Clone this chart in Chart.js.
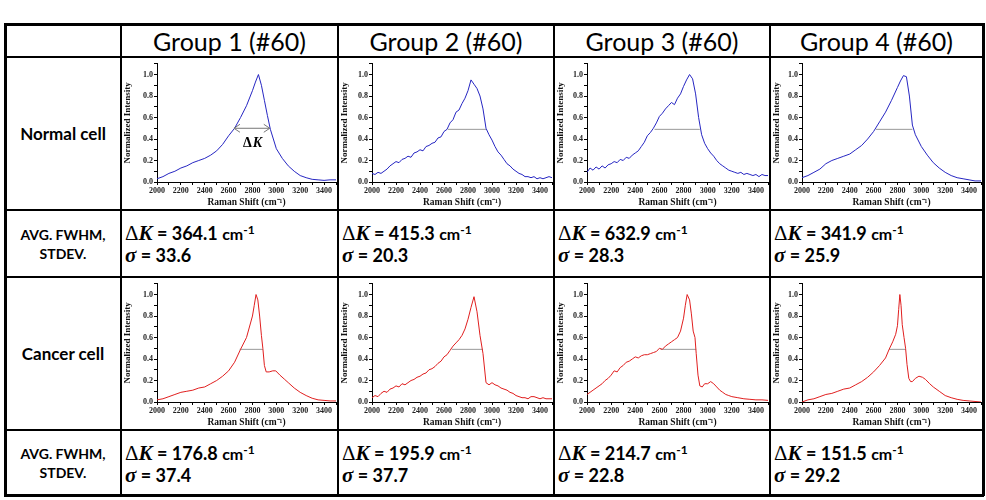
<!DOCTYPE html>
<html>
<head>
<meta charset="utf-8">
<script src="https://cdn.jsdelivr.net/npm/chart.js@4.4.0/dist/chart.umd.min.js"></script>
<style>
  body { margin: 0; background: #fff; width: 986px; height: 500px; position: relative; overflow: hidden;
         font-family: Lato, "Open Sans", sans-serif; color: #000; }
  .rule { position: absolute; background: #000; z-index: 5; }
  .txt { position: absolute; z-index: 3; white-space: nowrap; }
  .head { font-size: 25px; text-align: center; }
  .lab { font-size: 17px; font-weight: bold; text-align: center; line-height: 19px; }
  .lab.small { font-size: 14px; }
  .stat { font-size: 18px; font-weight: bold; transform: translateY(-50%); }
  .stat .m { font-family: "Liberation Serif", serif; font-size: 21px; font-weight: normal; }
  .stat .i { font-family: "Liberation Serif", serif; font-style: italic; font-size: 21px; }
  .stat .cm { font-size: 16px; }
  .stat sup { font-size: 12px; vertical-align: 6px; }
  canvas { position: absolute; z-index: 1; }
</style>
</head>
<body>
<script>
// ---- data ----
const groups = ['Group 1 (#60)', 'Group 2 (#60)', 'Group 3 (#60)', 'Group 4 (#60)'];
const rowLabels = ['Normal cell', 'AVG. FWHM,<br>STDEV.', 'Cancer cell', 'AVG. FWHM,<br>STDEV.'];

const normalFwhm = ['364.1', '415.3', '632.9', '341.9'];
const normalStd = ['33.6', '20.3', '28.3', '25.9'];
const cancerFwhm = ['176.8', '195.9', '214.7', '151.5'];
const cancerStd = ['37.4', '37.7', '22.8', '29.2'];

const xTickValues = [2000, 2100, 2200, 2300, 2400, 2500, 2600, 2700, 2800, 2900, 3000, 3100, 3200, 3300, 3400, 3500];
const yTickValues = [0, 0.1, 0.2, 0.3, 0.4, 0.5, 0.6, 0.7, 0.8, 0.9, 1.0, 1.1];

const shift25 = [2000, 2025, 2050, 2075, 2100, 2125, 2150, 2175, 2200, 2225, 2250, 2275, 2300, 2325, 2350, 2375,
  2400, 2425, 2450, 2475, 2500, 2525, 2550, 2575, 2600, 2625, 2650, 2675, 2700, 2725, 2750, 2775, 2800, 2825,
  2850, 2875, 2900, 2925, 2950, 2975, 3000, 3025, 3050, 3075, 3100, 3125, 3150, 3175, 3200, 3225, 3250, 3275,
  3300, 3325, 3350, 3375, 3400, 3425, 3450, 3475, 3500];

const n1Shift = [2000, 2050, 2100, 2150, 2200, 2250, 2300, 2350, 2400, 2450, 2500, 2550, 2600, 2650, 2700, 2750,
  2800, 2825, 2850, 2875, 2900, 2925, 2950, 3000, 3050, 3100, 3150, 3200, 3250, 3300, 3350, 3400, 3450, 3500];
const n1Int = [0.03, 0.05, 0.08, 0.10, 0.13, 0.15, 0.18, 0.20, 0.22, 0.25, 0.29, 0.35, 0.43, 0.50, 0.60, 0.71,
  0.85, 0.93, 1.00, 0.90, 0.76, 0.62, 0.49, 0.31, 0.22, 0.15, 0.10, 0.06, 0.04, 0.025, 0.02, 0.015, 0.02, 0.02];

const n2Int = [0.08, 0.07, 0.09, 0.08, 0.10, 0.12, 0.15, 0.17, 0.19, 0.18, 0.21, 0.22, 0.24, 0.23, 0.27, 0.28,
  0.30, 0.29, 0.33, 0.34, 0.36, 0.37, 0.41, 0.42, 0.47, 0.49, 0.55, 0.58, 0.65, 0.67, 0.73, 0.78, 0.85, 0.95,
  0.91, 0.87, 0.80, 0.68, 0.50, 0.44, 0.39, 0.33, 0.28, 0.25, 0.21, 0.17, 0.15, 0.12, 0.10, 0.08, 0.07, 0.05,
  0.05, 0.04, 0.05, 0.03, 0.04, 0.03, 0.04, 0.05, 0.04];

const n3Int = [0.09, 0.13, 0.11, 0.14, 0.12, 0.15, 0.13, 0.16, 0.17, 0.19, 0.18, 0.21, 0.20, 0.23, 0.22, 0.25,
  0.27, 0.29, 0.33, 0.37, 0.43, 0.46, 0.50, 0.55, 0.61, 0.64, 0.68, 0.71, 0.74, 0.72, 0.78, 0.82, 0.89, 0.95,
  1.00, 0.96, 0.82, 0.60, 0.44, 0.36, 0.31, 0.27, 0.24, 0.20, 0.17, 0.15, 0.13, 0.11, 0.10, 0.09, 0.08, 0.09,
  0.07, 0.08, 0.07, 0.06, 0.07, 0.05, 0.07, 0.06, 0.06];

const n4Shift = [2000, 2050, 2100, 2150, 2200, 2250, 2300, 2350, 2400, 2450, 2500, 2550, 2600, 2650, 2700, 2750,
  2800, 2825, 2850, 2875, 2900, 2925, 2950, 3000, 3050, 3100, 3150, 3200, 3250, 3300, 3350, 3400, 3450, 3500];
const n4Int = [0.04, 0.06, 0.09, 0.12, 0.17, 0.20, 0.22, 0.24, 0.26, 0.30, 0.34, 0.40, 0.47, 0.56, 0.65, 0.76,
  0.88, 0.94, 0.99, 0.98, 0.80, 0.53, 0.44, 0.33, 0.25, 0.18, 0.13, 0.09, 0.06, 0.04, 0.03, 0.02, 0.01, 0.01];

const c1Shift = [2000, 2050, 2100, 2150, 2200, 2250, 2300, 2350, 2400, 2450, 2500, 2550, 2600, 2650, 2700, 2750,
  2800, 2815, 2830, 2845, 2860, 2875, 2887, 2900, 2915, 2940, 2970, 2995, 3030, 3070, 3100, 3150, 3200, 3250,
  3300, 3350, 3400, 3450, 3500];
const c1Int = [0.02, 0.03, 0.05, 0.07, 0.09, 0.10, 0.11, 0.13, 0.14, 0.17, 0.20, 0.24, 0.29, 0.37, 0.49, 0.60,
  0.80, 0.90, 1.00, 0.95, 0.80, 0.62, 0.50, 0.34, 0.28, 0.28, 0.29, 0.29, 0.25, 0.21, 0.18, 0.13, 0.09, 0.06,
  0.035, 0.02, 0.015, 0.01, 0.01];

const c2Int = [0.04, 0.06, 0.05, 0.08, 0.10, 0.09, 0.12, 0.13, 0.15, 0.14, 0.17, 0.16, 0.18, 0.20, 0.21, 0.23,
  0.24, 0.26, 0.27, 0.30, 0.31, 0.33, 0.36, 0.38, 0.42, 0.44, 0.48, 0.52, 0.55, 0.58, 0.62, 0.68, 0.77, 0.88,
  0.98, 0.84, 0.62, 0.45, 0.18, 0.16, 0.18, 0.16, 0.15, 0.13, 0.12, 0.11, 0.09, 0.08, 0.06, 0.05, 0.04, 0.04,
  0.03, 0.05, 0.05, 0.04, 0.03, 0.04, 0.03, 0.03, 0.03];

const c3Shift = [2000, 2025, 2050, 2075, 2100, 2125, 2150, 2175, 2200, 2225, 2250, 2275, 2300, 2325, 2350, 2375,
  2400, 2425, 2450, 2475, 2500, 2525, 2550, 2575, 2600, 2625, 2650, 2675, 2700, 2725, 2750, 2775, 2800, 2815,
  2830, 2850, 2865, 2880, 2895, 2905, 2920, 2935, 2955, 2975, 3000, 3025, 3050, 3075, 3100, 3125, 3150, 3175,
  3200, 3250, 3300, 3350, 3400, 3450, 3500];
const c3Int = [0.07, 0.09, 0.11, 0.13, 0.15, 0.17, 0.20, 0.22, 0.25, 0.29, 0.28, 0.32, 0.34, 0.37, 0.38, 0.40,
  0.42, 0.41, 0.43, 0.44, 0.44, 0.45, 0.46, 0.47, 0.50, 0.49, 0.52, 0.54, 0.56, 0.58, 0.60, 0.66, 0.78, 0.90,
  1.00, 0.95, 0.82, 0.66, 0.60, 0.45, 0.25, 0.15, 0.14, 0.17, 0.17, 0.19, 0.17, 0.14, 0.11, 0.09, 0.07, 0.06,
  0.05, 0.04, 0.03, 0.025, 0.02, 0.02, 0.015];

const c4Shift = [2000, 2050, 2100, 2150, 2200, 2250, 2300, 2350, 2400, 2450, 2500, 2550, 2600, 2650, 2700, 2730,
  2760, 2785, 2800, 2810, 2820, 2830, 2840, 2855, 2868, 2880, 2895, 2910, 2925, 2950, 2980, 3010, 3035, 3070,
  3100, 3150, 3200, 3250, 3300, 3350, 3400, 3450, 3500];
const c4Int = [0.00, 0.02, 0.03, 0.05, 0.07, 0.08, 0.10, 0.12, 0.13, 0.16, 0.19, 0.23, 0.28, 0.34, 0.41, 0.49,
  0.56, 0.63, 0.71, 0.86, 1.00, 0.90, 0.72, 0.60, 0.50, 0.35, 0.22, 0.19, 0.19, 0.22, 0.24, 0.23, 0.21, 0.17,
  0.14, 0.10, 0.06, 0.04, 0.025, 0.015, 0.01, 0.005, 0.0];

// half-maximum line ends [from, to] and level
const fwhmNormal = [[2645, 2945], [2632, 2950], [2560, 2935], [2620, 2925]];
const fwhmCancer = [[2693, 2887], [2665, 2925], [2610, 2905], [2729, 2868]];
const halfLevel = 0.49;

// ---- layout ----
const colX = [5, 121, 338, 554, 770, 983];
const rowY = [24, 57, 210, 277, 430, 495];
const yAxisW = [35, 33, 32, 31];

function rule(x, y, w, h) {
  const d = document.createElement('div');
  d.className = 'rule';
  Object.assign(d.style, { left: x + 'px', top: y + 'px', width: w + 'px', height: h + 'px' });
  document.body.appendChild(d);
}
function text(cls, html, x, y, w, h) {
  const d = document.createElement('div');
  d.className = 'txt ' + cls;
  d.innerHTML = html;
  Object.assign(d.style, { left: x + 'px', top: y + 'px' });
  if (w) d.style.width = w + 'px';
  if (h) { d.style.height = h + 'px'; d.style.display = 'flex'; d.style.alignItems = 'center'; d.style.justifyContent = 'center'; }
  document.body.appendChild(d);
}

// grid lines
colX.forEach((x, i) => {
  const t = (i === 0 || i === colX.length - 1) ? 3 : 2;
  rule(x - 1, rowY[0] - 1, t, rowY[rowY.length - 1] - rowY[0] + 2);
});
rowY.forEach((y, i) => {
  const t = (i === 0 || i === rowY.length - 1) ? 3 : 2;
  rule(colX[0] - 1, y - 1, colX[colX.length - 1] - colX[0] + 2, t);
});

// header + row labels
groups.forEach((g, i) => text('head', g, colX[i + 1], rowY[0], colX[i + 2] - colX[i + 1], rowY[1] - rowY[0]));
rowLabels.forEach((l, r) => text('lab' + (r % 2 ? ' small' : ''), l, colX[0], rowY[r + 1], colX[1] - colX[0], rowY[r + 2] - rowY[r + 1]));

function statHtml(k) {
  return '<span class="m">\u0394</span><span class="i">K</span> = ' + k + ' <span class="cm">cm<sup>-1</sup></span>';
}
function sigHtml(s) {
  return '<span class="i">\u03c3</span> = ' + s;
}
[[normalFwhm, normalStd, 2], [cancerFwhm, cancerStd, 4]].forEach(([fw, sd, r]) => {
  fw.forEach((v, i) => {
    text('stat', statHtml(v), colX[i + 1] + 4, rowY[r] + 23);
    text('stat', sigHtml(sd[i]), colX[i + 1] + 4, rowY[r] + 45);
  });
});

// ---- charts ----
const serif = '"Liberation Serif", "Times New Roman", serif';

const arrowPlugin = {
  id: 'arrowPlugin',
  afterDatasetsDraw(chart, args, opts) {
    if (!opts.on) return;
    const { ctx, scales: { x, y } } = chart;
    const ds = chart.data.datasets[1].data;
    const x0 = x.getPixelForValue(ds[0].x), x1 = x.getPixelForValue(ds[1].x), py = y.getPixelForValue(ds[0].y);
    ctx.save();
    ctx.strokeStyle = '#777';
    ctx.lineWidth = 1;
    ctx.beginPath();
    ctx.moveTo(x0 + 6, py - 4); ctx.lineTo(x0, py); ctx.lineTo(x0 + 6, py + 4);
    ctx.moveTo(x1 - 6, py - 4); ctx.lineTo(x1, py); ctx.lineTo(x1 - 6, py + 4);
    ctx.stroke();
    ctx.fillStyle = '#000';
    ctx.font = 'bold 14px ' + serif;
    ctx.textAlign = 'center';
    ctx.textBaseline = 'middle';
    const cx = x.getPixelForValue(2800), cy = y.getPixelForValue(0.36);
    ctx.fillText('\u0394', cx - 5, cy);
    ctx.font = 'italic bold 14px ' + serif;
    ctx.fillText('K', cx + 5, cy);
    ctx.restore();
  }
};

function makeChart(col, row, xs, ys, fw, level, color, arrow) {
  const c = document.createElement('canvas');
  const left = colX[col + 1] + 1, top = rowY[row] + 1;
  const w = colX[col + 2] - colX[col + 1] - 2, h = rowY[row + 1] - rowY[row] - 2;
  c.width = w; c.height = h;
  Object.assign(c.style, { left: left + 'px', top: top + 'px', width: w + 'px', height: h + 'px' });
  document.body.appendChild(c);
  const tickFont = { family: serif, weight: 'bold', size: 8 };
  return new Chart(c, {
    type: 'line',
    data: {
      datasets: [
        { data: xs.map((x, i) => ({ x: x, y: ys[i] })), borderColor: color, borderWidth: 1, pointRadius: 0, tension: 0 },
        { data: [{ x: fw[0], y: level }, { x: fw[1], y: level }], borderColor: arrow ? '#777' : '#999', borderWidth: 1, pointRadius: 0 }
      ]
    },
    plugins: [arrowPlugin],
    options: {
      responsive: false,
      animation: false,
      layout: { padding: 0 },
      plugins: { legend: { display: false }, tooltip: { enabled: false }, arrowPlugin: { on: arrow } },
      scales: {
        x: {
          type: 'linear', min: 2000, max: 3500,
          afterBuildTicks: s => { s.ticks = xTickValues.map(v => ({ value: v })); },
          afterFit: s => { s.height = 27; },
          ticks: { autoSkip: false, maxRotation: 0, padding: 1, color: '#222', font: tickFont,
                   callback: v => (v % 200 === 0 && v < 3500) ? String(v) : '' },
          grid: { drawOnChartArea: false, tickLength: 3, color: '#000' },
          border: { color: '#000', width: 1 },
          title: { display: true, text: 'Raman Shift (cm\u207b\u00b9)', color: '#111',
                   font: { family: serif, weight: 'bold', size: 9.5 }, padding: { top: 0, bottom: 1 } }
        },
        y: {
          type: 'linear', min: 0, max: 1.1,
          afterBuildTicks: s => { s.ticks = yTickValues.map(v => ({ value: v })); },
          afterFit: s => { s.width = yAxisW[col]; },
          ticks: { autoSkip: false, padding: 1, color: '#222', font: tickFont,
                   callback: v => { const t = Math.round(v * 10); return (t % 2 === 0 && t <= 10) ? (t / 10).toFixed(1) : ''; } },
          grid: { drawOnChartArea: false, tickLength: 3, color: '#000' },
          border: { color: '#000', width: 1 },
          title: { display: true, text: 'Normalized Intensity', color: '#111',
                   font: { family: serif, weight: 'bold', size: 9 }, padding: 0 }
        }
      }
    }
  });
}

const blue = '#2626c2';
const red = '#e01f1f';
makeChart(0, 1, n1Shift, n1Int, fwhmNormal[0], 0.5, blue, true);
makeChart(1, 1, shift25, n2Int, fwhmNormal[1], halfLevel, blue, false);
makeChart(2, 1, shift25, n3Int, fwhmNormal[2], halfLevel, blue, false);
makeChart(3, 1, n4Shift, n4Int, fwhmNormal[3], halfLevel, blue, false);
makeChart(0, 3, c1Shift, c1Int, fwhmCancer[0], halfLevel, red, false);
makeChart(1, 3, shift25, c2Int, fwhmCancer[1], halfLevel, red, false);
makeChart(2, 3, c3Shift, c3Int, fwhmCancer[2], halfLevel, red, false);
makeChart(3, 3, c4Shift, c4Int, fwhmCancer[3], halfLevel, red, false);
</script>
</body>
</html>
